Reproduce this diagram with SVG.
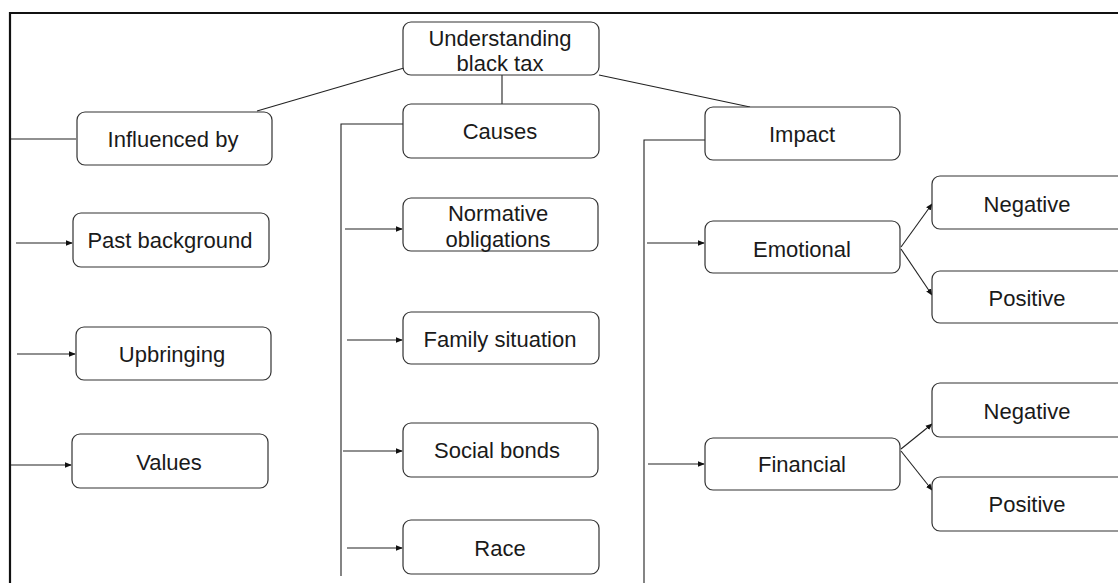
<svg xmlns="http://www.w3.org/2000/svg" width="1118" height="583" viewBox="0 0 1118 583">
  <style>
    .box { fill: #ffffff; stroke: #333333; stroke-width: 1.2; }
    .lbl { font-family: "Liberation Sans", Arial, sans-serif; font-size: 22px; fill: #1a1a1a; text-anchor: middle; }
    .ln { fill: none; stroke: #222222; stroke-width: 1.1; }
    .arr { fill: none; stroke: #222222; stroke-width: 1.1; marker-end: url(#head); }
    .frame { fill: none; stroke: #111111; stroke-width: 2.2; }
  </style>
  <defs>
    <marker id="head" viewBox="0 0 8 8" refX="7" refY="4" markerWidth="7" markerHeight="7" markerUnits="userSpaceOnUse" orient="auto">
      <path d="M0,0.8 L8,4 L0,7.2 Z" fill="#111111"/>
    </marker>
  </defs>

  <rect width="1118" height="583" fill="#ffffff"/>

  <!-- outer frame: top and left edges -->
  <path class="frame" d="M10,583 L10,13 L1118,13"/>

  <g id="connectors">
    <!-- root to the three branches -->
    <line class="ln" x1="404" y1="68" x2="257" y2="111"/>
    <line class="ln" x1="502" y1="75" x2="502" y2="104"/>
    <line class="ln" x1="599" y1="75" x2="750" y2="107"/>

    <!-- Influenced by bracket -->
    <line class="ln" x1="11" y1="139" x2="76" y2="139"/>
    <line class="arr" x1="16" y1="243" x2="72" y2="243"/>
    <line class="arr" x1="17" y1="354" x2="75" y2="354"/>
    <line class="arr" x1="11" y1="465" x2="71" y2="465"/>

    <!-- Causes bracket -->
    <path class="ln" d="M403,124 L341,124 L341,576"/>
    <line class="arr" x1="345" y1="229" x2="402" y2="229"/>
    <line class="arr" x1="347" y1="340" x2="402" y2="340"/>
    <line class="arr" x1="343" y1="451" x2="402" y2="451"/>
    <line class="arr" x1="347" y1="548" x2="402" y2="548"/>

    <!-- Impact bracket -->
    <path class="ln" d="M705,140 L644,140 L644,583"/>
    <line class="arr" x1="647" y1="243" x2="704" y2="243"/>
    <line class="arr" x1="648" y1="464" x2="704" y2="464"/>

    <!-- Emotional split -->
    <line class="arr" x1="901" y1="247" x2="932" y2="204"/>
    <line class="arr" x1="901" y1="249" x2="932" y2="295"/>

    <!-- Financial split -->
    <line class="arr" x1="901" y1="449" x2="932" y2="424"/>
    <line class="arr" x1="901" y1="451" x2="932" y2="490"/>
  </g>

  <g id="n-root">
    <rect class="box" x="403" y="22" width="196" height="53" rx="8"/>
    <text class="lbl" x="500" y="46">Understanding</text>
    <text class="lbl" x="500" y="71">black tax</text>
  </g>

  <g id="n-influenced">
    <rect class="box" x="77" y="112" width="195" height="53" rx="8"/>
    <text class="lbl" x="173" y="147">Influenced by</text>
  </g>
  <g id="n-past">
    <rect class="box" x="73" y="213" width="196" height="54" rx="8"/>
    <text class="lbl" x="170" y="248">Past background</text>
  </g>
  <g id="n-upbringing">
    <rect class="box" x="76" y="327" width="195" height="53" rx="8"/>
    <text class="lbl" x="172" y="362">Upbringing</text>
  </g>
  <g id="n-values">
    <rect class="box" x="72" y="434" width="196" height="54" rx="8"/>
    <text class="lbl" x="169" y="470">Values</text>
  </g>

  <g id="n-causes">
    <rect class="box" x="403" y="104" width="196" height="54" rx="8"/>
    <text class="lbl" x="500" y="139">Causes</text>
  </g>
  <g id="n-normative">
    <rect class="box" x="403" y="198" width="195" height="53" rx="8"/>
    <text class="lbl" x="498" y="221">Normative</text>
    <text class="lbl" x="498" y="247">obligations</text>
  </g>
  <g id="n-family">
    <rect class="box" x="403" y="312" width="196" height="52" rx="8"/>
    <text class="lbl" x="500" y="347">Family situation</text>
  </g>
  <g id="n-social">
    <rect class="box" x="403" y="423" width="195" height="54" rx="8"/>
    <text class="lbl" x="497" y="458">Social bonds</text>
  </g>
  <g id="n-race">
    <rect class="box" x="403" y="520" width="196" height="54" rx="8"/>
    <text class="lbl" x="500" y="556">Race</text>
  </g>

  <g id="n-impact">
    <rect class="box" x="705" y="107" width="195" height="53" rx="8"/>
    <text class="lbl" x="802" y="142">Impact</text>
  </g>
  <g id="n-emotional">
    <rect class="box" x="705" y="221" width="195" height="52" rx="8"/>
    <text class="lbl" x="802" y="257">Emotional</text>
  </g>
  <g id="n-financial">
    <rect class="box" x="705" y="438" width="195" height="52" rx="8"/>
    <text class="lbl" x="802" y="472">Financial</text>
  </g>

  <g id="n-emo-negative">
    <rect class="box" x="932" y="176" width="200" height="53" rx="8"/>
    <text class="lbl" x="1027" y="212">Negative</text>
  </g>
  <g id="n-emo-positive">
    <rect class="box" x="932" y="271" width="200" height="52" rx="8"/>
    <text class="lbl" x="1027" y="306">Positive</text>
  </g>
  <g id="n-fin-negative">
    <rect class="box" x="932" y="383" width="200" height="54" rx="8"/>
    <text class="lbl" x="1027" y="419">Negative</text>
  </g>
  <g id="n-fin-positive">
    <rect class="box" x="932" y="477" width="200" height="54" rx="8"/>
    <text class="lbl" x="1027" y="512">Positive</text>
  </g>
</svg>
